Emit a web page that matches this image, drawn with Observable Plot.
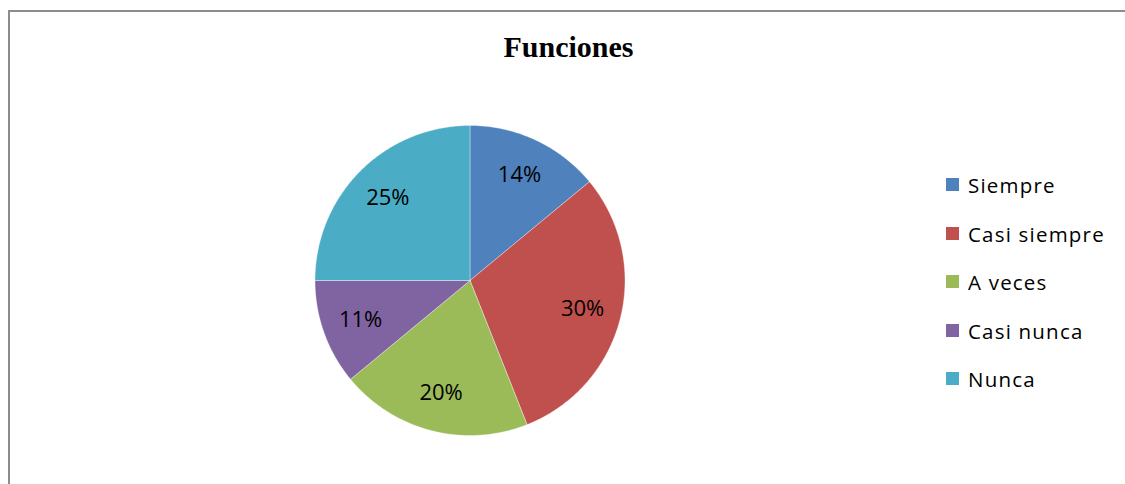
<!DOCTYPE html>
<html>
<head>
<meta charset="utf-8">
<script src="https://cdn.jsdelivr.net/npm/d3@7"></script>
<script src="https://cdn.jsdelivr.net/npm/@observablehq/plot@0.6"></script>
<style>
  html, body { margin: 0; padding: 0; background: #fff; overflow: hidden; }
  #wrap { position: relative; width: 1125px; height: 484px; overflow: hidden; background: #fff; }
  #topline { position: absolute; left: 8px; top: 10px; width: 1400px; height: 2px; background: #8c8c8c; }
  #leftline { position: absolute; left: 8px; top: 10px; width: 2px; height: 600px; background: #8c8c8c; }
  #chart { position: absolute; left: 0; top: 0; }
  #title { position: absolute; left: 0; width: 1137px; top: 30px; text-align: center;
           font-family: "Liberation Serif", "Times New Roman", serif; font-weight: bold; font-size: 30px; color: #000; }
  #legend { position: absolute; left: 946px; top: 172px; font-family: "Open Sans", sans-serif; font-size: 20.5px; color: #000; }
  .item { height: 48.5px; display: flex; align-items: flex-start; }
  .sw { width: 13px; height: 13px; margin-top: 6px; margin-right: 9px; flex: none; }
  .lb { line-height: 26px; letter-spacing: 1.2px; }
</style>
</head>
<body>
<div id="wrap">
  <div id="topline"></div>
  <div id="leftline"></div>
  <div id="chart"></div>
  <div id="title">Funciones</div>
  <div id="legend"></div>
</div>
<script>
const categories = ["Siempre", "Casi siempre", "A veces", "Casi nunca", "Nunca"];
const values = [14, 30, 20, 11, 25];
const colors = ["#4F81BD", "#C0504D", "#9BBB59", "#8064A2", "#4BACC6"];

const pie = d3.pie().sort(null).value(d => d.value);
const data = categories.map((c, i) => ({category: c, value: values[i]}));
const arcs = pie(data);

// polygon vertices (unit circle, clockwise from top)
const poly = [];
arcs.forEach(a => {
  const c = a.data.category;
  poly.push({category: c, x: 0, y: 0});
  const n = Math.max(8, Math.ceil((a.endAngle - a.startAngle) / 0.01));
  for (let k = 0; k <= n; k++) {
    const t = a.startAngle + (a.endAngle - a.startAngle) * k / n;
    poly.push({category: c, x: Math.sin(t), y: Math.cos(t)});
  }
  poly.push({category: c, x: 0, y: 0});
});

const labelR = 0.75;
const labels = arcs.map(a => {
  const m = (a.startAngle + a.endAngle) / 2;
  return {category: a.data.category, label: a.data.value + "%", x: labelR * Math.sin(m), y: labelR * Math.cos(m)};
});

const cx = 469.5, cy = 280, r = 155;
const plot = Plot.plot({
  width: 1125,
  height: 484,
  margin: 0,
  x: {domain: [-1, 1], range: [cx - r, cx + r], axis: null},
  y: {domain: [-1, 1], range: [cy + r, cy - r], axis: null},
  color: {domain: categories, range: colors},
  marks: [
    Plot.line(poly, {x: "x", y: "y", z: "category", fill: "category", stroke: "#ffffff", strokeWidth: 0.6, strokeOpacity: 0.6, curve: "linear"}),
    Plot.text(labels, {x: "x", y: "y", text: "label", fill: "#000", fontSize: 22, fontFamily: "Open Sans, sans-serif"})
  ]
});
plot.style.background = "transparent";
document.getElementById("chart").appendChild(plot);

const legend = document.getElementById("legend");
categories.forEach((c, i) => {
  const it = document.createElement("div");
  it.className = "item";
  const sw = document.createElement("div");
  sw.className = "sw";
  sw.style.background = colors[i];
  const lb = document.createElement("div");
  lb.className = "lb";
  lb.textContent = c;
  it.appendChild(sw); it.appendChild(lb);
  legend.appendChild(it);
});
</script>
</body>
</html>
